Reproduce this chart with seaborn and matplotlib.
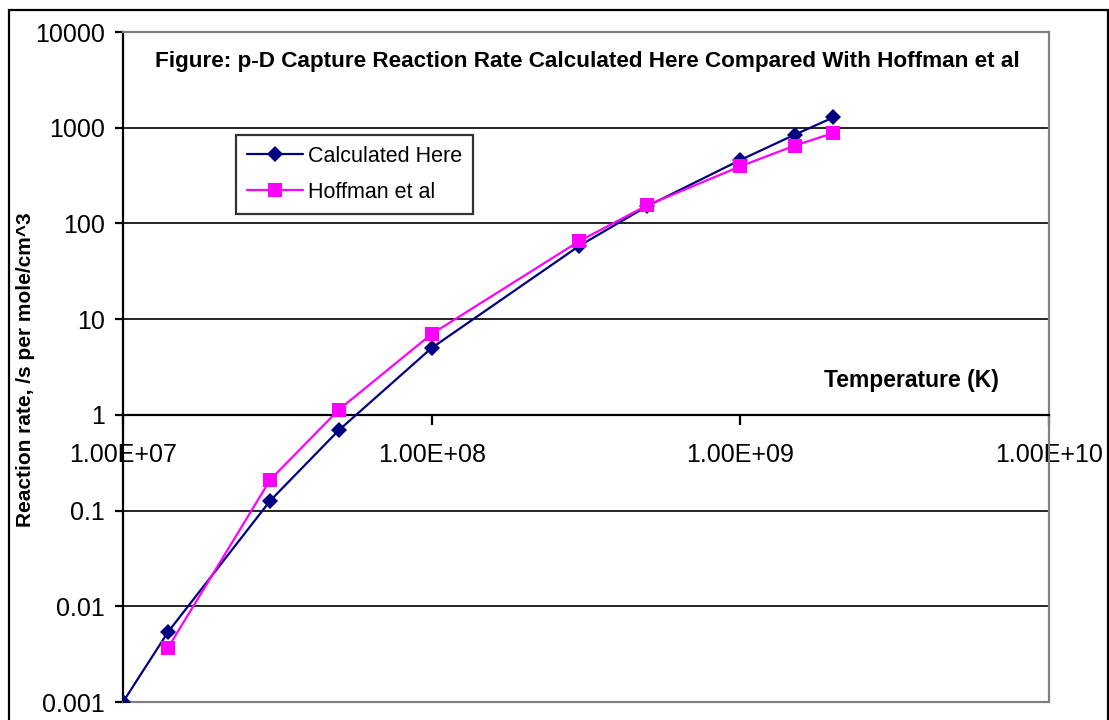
import matplotlib
matplotlib.use("Agg")
import matplotlib.pyplot as plt
import matplotlib.patches as mpatches
import seaborn as sns
import pandas as pd

# Temperatures (K) and reaction rates (/s per mole/cm^3)
temp_calc = [1.0e7, 1.4e7, 3.0e7, 5.0e7, 1.0e8, 3.0e8, 5.0e8, 1.0e9, 1.5e9, 2.0e9]
rate_calc = [0.001, 0.0054, 0.127, 0.69, 5.0, 58.0, 152.0, 460.0, 845.0, 1280.0]

temp_hoff = [1.4e7, 3.0e7, 5.0e7, 1.0e8, 3.0e8, 5.0e8, 1.0e9, 1.5e9, 2.0e9]
rate_hoff = [0.0037, 0.21, 1.13, 7.0, 65.0, 155.0, 395.0, 650.0, 880.0]

x_ticks = [1e7, 1e8, 1e9, 1e10]
x_labels = ["1.00E+07", "1.00E+08", "1.00E+09", "1.00E+10"]
y_ticks = [0.001, 0.01, 0.1, 1, 10, 100, 1000, 10000]
y_labels = ["0.001", "0.01", "0.1", "1", "10", "100", "1000", "10000"]

title = "Figure: p-D Capture Reaction Rate Calculated Here Compared With Hoffman et al"
x_title = "Temperature (K)"
y_title = "Reaction rate, /s per mole/cm^3"

sns.set_theme(style="white")
plt.rcParams["font.family"] = ["Liberation Sans", "DejaVu Sans"]
plt.rcParams["text.color"] = "black"
plt.rcParams["xtick.color"] = "black"
plt.rcParams["ytick.color"] = "black"

fig = plt.figure(figsize=(11.09, 7.2), dpi=100)
ax = fig.add_axes([123 / 1109, 1 - 702 / 720, 926 / 1109, 670 / 720])
ax.set_xscale("log")
ax.set_yscale("log")

df_calc = pd.DataFrame({"T": temp_calc, "rate": rate_calc})
df_hoff = pd.DataFrame({"T": temp_hoff, "rate": rate_hoff})

sns.lineplot(data=df_calc, x="T", y="rate", ax=ax, color="#000080", lw=1.6,
             marker="D", markersize=8.5, markeredgewidth=0, label="Calculated Here",
             zorder=4)
sns.lineplot(data=df_hoff, x="T", y="rate", ax=ax, color="#FF00FF", lw=1.6,
             marker="s", markersize=10, markeredgewidth=0, label="Hoffman et al",
             zorder=5)

ax.set_xlim(1e7, 1e10)
ax.set_ylim(0.001, 10000)
ax.set_xticks(x_ticks)
ax.set_xticklabels(x_labels)
ax.set_yticks(y_ticks)
ax.set_yticklabels(y_labels)
ax.minorticks_off()
ax.set_xlabel("")
ax.set_ylabel("")

# horizontal gridlines at each decade
ax.yaxis.grid(True, color="black", lw=1.2, zorder=1)
ax.xaxis.grid(False)

# spines: category axis crosses at 1
for s in ["left", "bottom"]:
    ax.spines[s].set_color("black")
    ax.spines[s].set_linewidth(1.6)
ax.spines["bottom"].set_position(("data", 1))
for s in ["top", "right"]:
    ax.spines[s].set_color("#808080")
    ax.spines[s].set_linewidth(1.6)
ax.axhline(0.001, color="#808080", lw=1.6, zorder=2.6, clip_on=False)

ax.tick_params(axis="x", direction="out", length=7, width=1.6, color="black",
               pad=13, labelsize=18, bottom=True, labelcolor="black")
ax.tick_params(axis="y", direction="out", length=6, width=1.6, color="black",
               pad=7, labelsize=18, left=True, labelcolor="black")

leg = ax.legend(loc="upper left", bbox_to_anchor=(0.122, 0.846), borderaxespad=0,
                fontsize=15.5, frameon=True, fancybox=False, edgecolor="black",
                handlelength=2.6, labelspacing=0.7, borderpad=0.5,
                handletextpad=0.25)
leg.get_frame().set_linewidth(1.6)
leg.set_zorder(10)
for t in leg.get_texts():
    t.set_color("black")

fig.text(587 / 1109, 1 - 62 / 720, title, ha="center", va="center",
         fontsize=16.2, fontweight="bold")
fig.text(911 / 1109, 1 - 381 / 720, x_title, ha="center", va="center",
         fontsize=16.5, fontweight="bold")
fig.text(26 / 1109, 1 - 370 / 720, y_title, ha="center", va="center",
         rotation=90, fontsize=15, fontweight="bold")

# outer chart border
border = mpatches.Rectangle((9 / 1109, -0.02), 1099 / 1109, 1 - 10 / 720 + 0.02,
                            transform=fig.transFigure, fill=False,
                            edgecolor="black", lw=1.6, clip_on=False)
fig.patches.append(border)

fig.savefig("out.png", dpi=100)
